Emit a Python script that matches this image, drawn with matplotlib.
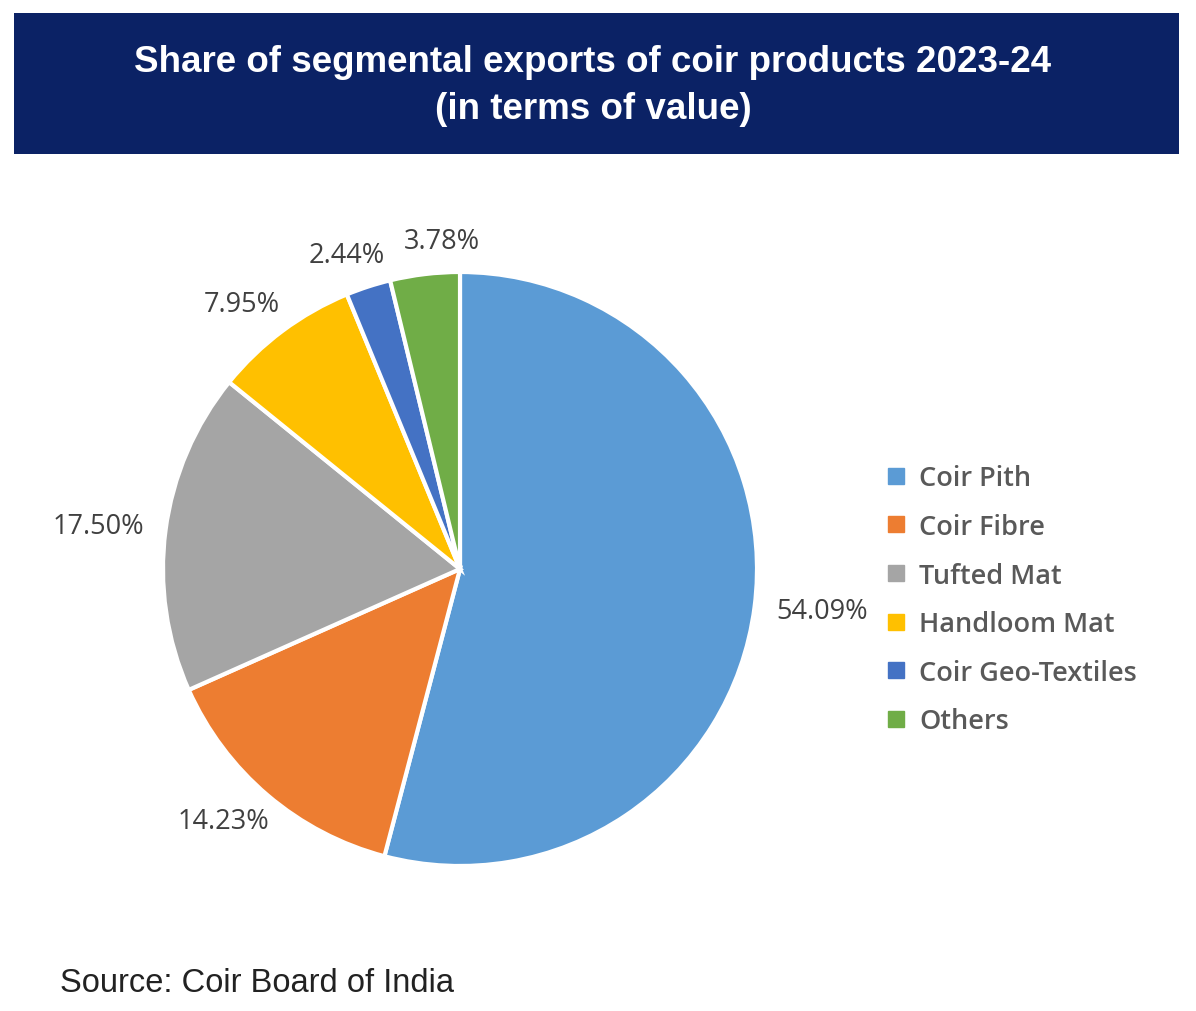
import matplotlib
matplotlib.use("Agg")
import numpy as np
import matplotlib.pyplot as plt
from matplotlib.patches import Rectangle
from matplotlib.lines import Line2D

categories = ["Coir Pith", "Coir Fibre", "Tufted Mat", "Handloom Mat", "Coir Geo-Textiles", "Others"]
shares = [54.09, 14.23, 17.50, 7.95, 2.44, 3.78]
colors = ["#5B9BD5", "#ED7D31", "#A5A5A5", "#FFC000", "#4472C4", "#70AD47"]
title = "Share of segmental exports of coir products 2023-24\n(in terms of value)"
source = "Source: Coir Board of India"

W, H = 1196, 1012
fig = plt.figure(figsize=(W / 100, H / 100), dpi=100)
fig.patch.set_facecolor("white")

# title banner
fig.patches.append(Rectangle((14 / W, 1 - 155 / H), (1179 - 14) / W, (155 - 14) / H,
                             transform=fig.transFigure, facecolor="#0B2265", edgecolor="none"))
fig.text(593 / W, 1 - 86 / H, title, ha="center", va="center", color="white",
         fontsize=26.5, fontweight="bold", family="Liberation Sans", linespacing=1.42)

# pie
cx, cy, r = 460, 570, 297
ax = fig.add_axes([(cx - r) / W, (H - cy - r) / H, 2 * r / W, 2 * r / H])
wedges, _ = ax.pie(shares, colors=colors, startangle=90, counterclock=False, radius=1,
                   wedgeprops=dict(edgecolor="white", linewidth=3))
ax.set_xlim(-1, 1)
ax.set_ylim(-1, 1)
ax.set_aspect("equal")
ax.axis("off")

# outside-end data labels (box pushed outward from the wedge mid-point)
fig.canvas.draw()
renderer = fig.canvas.get_renderer()
placed = []
for w, v in zip(wedges, shares):
    th = np.deg2rad((w.theta1 + w.theta2) / 2)
    t = ax.annotate(f"{v:.2f}%", xy=(1.07 * np.cos(th), 1.07 * np.sin(th)),
                    xytext=(34 * np.cos(th), 9 * np.sin(th)), textcoords="offset points",
                    ha="center", va="center", fontsize=19.5, color="#404040",
                    family="Open Sans", annotation_clip=False)
    bb = t.get_window_extent(renderer)
    for pb in placed:
        if bb.overlaps(pb):
            shift = pb.x1 - bb.x0 + 18
            t.xyann = (t.xyann[0] + shift * 72 / 100, t.xyann[1])
            bb = t.get_window_extent(renderer)
    placed.append(bb)

# legend
handles = [Line2D([0], [0], marker="s", linestyle="none", markersize=11,
                  markerfacecolor=c, markeredgecolor=c) for c in colors]
leg = fig.legend(handles, categories, loc="upper left",
                 bbox_to_anchor=(861 / W, 1 - 441 / H), frameon=False,
                 prop=dict(family="Open Sans", size=19.5, weight=600), labelcolor="#595959",
                 handlelength=0.8, handletextpad=0.45, labelspacing=0.76)

fig.text(60 / W, 1 - 983 / H, source, ha="left", va="center", color="#222222",
         fontsize=23.5, family="Liberation Sans")

fig.savefig("out.png", dpi=100)
